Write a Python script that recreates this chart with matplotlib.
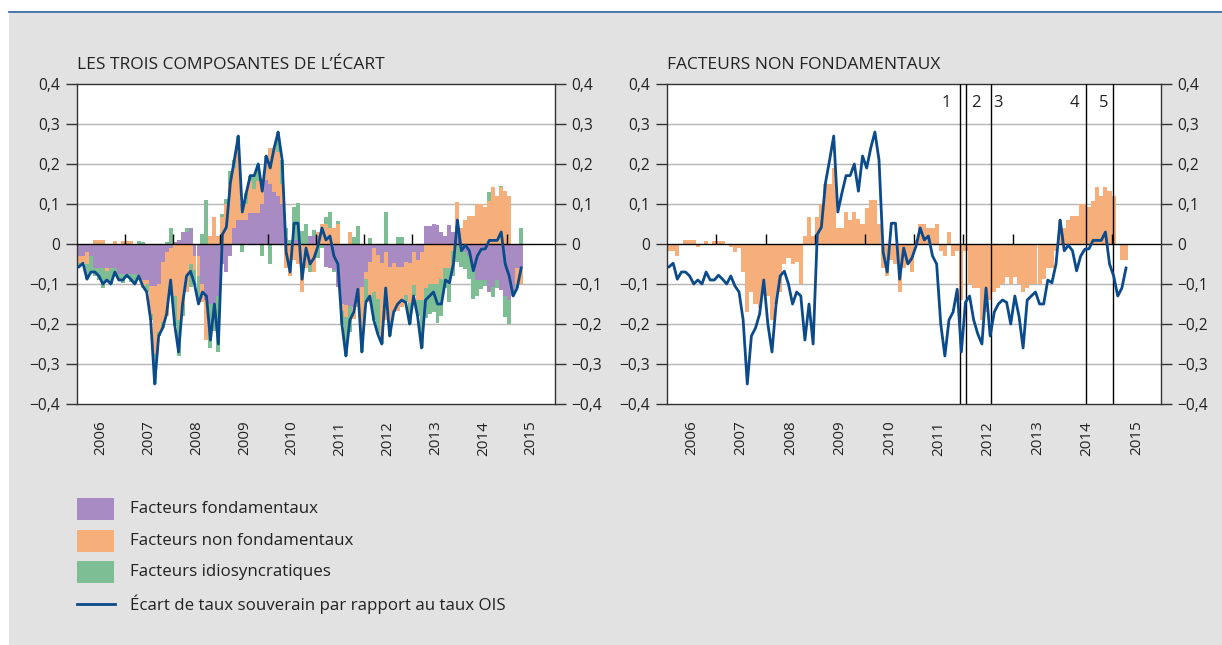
import matplotlib
matplotlib.use("Agg")
import matplotlib.pyplot as plt
from matplotlib.patches import Rectangle
from matplotlib.lines import Line2D
import numpy as np

plt.rcParams['font.family'] = ['Open Sans', 'DejaVu Sans']

# monthly data, Jan 2006 .. Apr 2015
spread = [-0.057, -0.048, -0.088, -0.070, -0.070, -0.080, -0.100, -0.090, -0.100, -0.070,
          -0.090, -0.090, -0.078, -0.088, -0.100, -0.080, -0.105, -0.120, -0.190, -0.350,
          -0.230, -0.210, -0.175, -0.090, -0.200, -0.270, -0.150, -0.080, -0.068, -0.100,
          -0.150, -0.120, -0.130, -0.240, -0.150, -0.250, 0.024, 0.042, 0.153, 0.210,
          0.270, 0.080, 0.128, 0.171, 0.171, 0.200, 0.132, 0.220, 0.190, 0.240,
          0.280, 0.210, -0.020, -0.070, 0.052, 0.052, -0.088, -0.010, -0.050, -0.035,
          -0.005, 0.040, 0.010, 0.020, -0.030, -0.050, -0.200, -0.280, -0.190, -0.170,
          -0.113, -0.270, -0.146, -0.130, -0.190, -0.225, -0.250, -0.110, -0.230, -0.170,
          -0.150, -0.140, -0.146, -0.200, -0.130, -0.180, -0.260, -0.140, -0.130, -0.120,
          -0.150, -0.150, -0.090, -0.097, -0.050, 0.060, -0.017, -0.003, -0.017, -0.067,
          -0.030, -0.013, -0.012, 0.009, 0.009, 0.009, 0.030, -0.050, -0.080, -0.130,
          -0.110, -0.060]

fondamentaux = [-0.030, -0.030, -0.020, -0.030, -0.060, -0.060, -0.060, -0.060, -0.060, -0.060,
                -0.075, -0.075, -0.075, -0.075, -0.075, -0.080, -0.090, -0.090, -0.105, -0.105,
                -0.100, -0.045, -0.020, -0.010, 0.005, 0.010, 0.030, 0.030, 0.040, -0.030,
                -0.030, -0.100, -0.140, -0.150, -0.150, -0.130, -0.050, -0.070, -0.030, 0.040,
                0.060, 0.060, 0.060, 0.077, 0.077, 0.077, 0.100, 0.160, 0.150, 0.130,
                0.120, 0.100, 0.015, 0.000, 0.010, 0.010, 0.000, 0.000, 0.020, 0.020,
                0.020, 0.000, -0.057, -0.060, -0.065, -0.107, -0.150, -0.153, -0.155, -0.157,
                -0.140, -0.107, -0.070, -0.045, -0.010, -0.028, -0.048, -0.020, -0.057, -0.048,
                -0.057, -0.057, -0.045, -0.048, -0.020, -0.040, -0.020, 0.045, 0.045, 0.050,
                0.048, 0.030, 0.020, 0.048, 0.030, 0.045, -0.010, -0.020, -0.030, -0.060,
                -0.090, -0.090, -0.090, -0.120, -0.107, -0.090, -0.115, -0.130, -0.140, -0.115,
                -0.060, -0.060]

non_fondamentaux = [-0.018, -0.018, -0.030, 0.000, 0.009, 0.009, 0.009, -0.008, 0.000, 0.008,
                    0.000, 0.008, 0.008, 0.008, 0.000, -0.008, -0.020, -0.010, -0.070, -0.170,
                    -0.120, -0.150, -0.160, -0.120, -0.130, -0.190, -0.150, -0.120, -0.050, -0.035,
                    -0.050, -0.045, -0.100, 0.020, 0.068, 0.020, 0.068, 0.100, 0.150, 0.150,
                    0.190, 0.040, 0.040, 0.080, 0.060, 0.080, 0.062, 0.050, 0.090, 0.110,
                    0.110, 0.050, -0.060, -0.080, -0.040, -0.050, -0.120, -0.060, -0.050, -0.070,
                    0.010, 0.050, 0.050, 0.040, 0.040, 0.050, -0.018, -0.030, 0.030, -0.030,
                    -0.018, -0.140, -0.018, -0.100, -0.110, -0.110, -0.190, -0.170, -0.140, -0.120,
                    -0.110, -0.100, -0.082, -0.100, -0.082, -0.100, -0.120, -0.110, -0.100, -0.100,
                    -0.100, -0.088, -0.060, -0.060, -0.017, 0.060, 0.040, 0.060, 0.070, 0.070,
                    0.100, 0.100, 0.092, 0.108, 0.142, 0.120, 0.142, 0.132, 0.120, 0.000,
                    -0.040, -0.040]

idiosyncratiques = [-0.009, 0.000, -0.038, -0.040, -0.019, -0.029, -0.049, -0.022, -0.040, -0.018,
                    -0.015, -0.023, -0.011, -0.021, -0.025, 0.008, 0.005, -0.020, -0.015, -0.075,
                    -0.010, -0.015, 0.005, 0.040, -0.075, -0.090, -0.030, 0.010, -0.058, -0.035,
                    -0.070, 0.025, 0.110, -0.110, -0.068, -0.140, 0.006, 0.012, 0.033, 0.020,
                    0.020, -0.020, 0.028, 0.014, 0.034, 0.043, -0.030, 0.010, -0.050, 0.000,
                    0.050, 0.060, 0.025, 0.010, 0.082, 0.092, 0.032, 0.050, -0.020, 0.015,
                    -0.035, -0.010, 0.017, 0.040, -0.005, 0.007, -0.032, -0.097, -0.065, 0.017,
                    0.045, -0.023, -0.058, 0.015, -0.070, -0.087, -0.012, 0.080, -0.033, -0.002,
                    0.017, 0.017, -0.019, -0.052, -0.028, -0.040, -0.120, -0.075, -0.075, -0.070,
                    -0.098, -0.092, -0.050, -0.085, -0.063, -0.045, -0.047, -0.043, -0.057, -0.077,
                    -0.040, -0.023, -0.014, 0.021, -0.026, -0.021, 0.003, -0.052, -0.060, -0.015,
                    -0.010, 0.040]

years = [str(y) for y in range(2006, 2016)]
# ECB events (months after Jan 2006)
events = [71.2, 72.7, 78.6, 101.8, 108.3]
event_labels = ['1', '2', '3', '4', '5']
event_label_x = [67.9, 75.1, 80.4, 98.9, 106.1]

titles = ["LES TROIS COMPOSANTES DE L\u2019\u00c9CART", "FACTEURS NON FONDAMENTAUX"]
legend_labels = ["Facteurs fondamentaux", "Facteurs non fondamentaux",
                 "Facteurs idiosyncratiques",
                 "\u00c9cart de taux souverain par rapport au taux OIS"]

c_fond = '#a88bc2'
c_nonf = '#f6ae7a'
c_idio = '#7dbe95'
c_line = '#0b4a8b'
bg = '#e2e2e2'
txt = '#222222'

W, H = 1222, 645
fig = plt.figure(figsize=(W / 100, H / 100), dpi=100)
fig.patches.append(Rectangle((9 / W, 0), 1, 1 - 13 / H, transform=fig.transFigure,
                             facecolor=bg, edgecolor='none', zorder=-10))
fig.lines.append(Line2D([9 / W, 1], [1 - 12 / H] * 2, transform=fig.transFigure,
                        color='#2a5fa0', lw=1.2))

months = np.arange(len(spread)) + 0.5


def fmt(v):
    s = f"{abs(v):.1f}".replace('.', ',')
    if round(v, 2) == 0:
        return '0'
    return ('\u2212' if v < 0 else '') + s


def setup(ax, title):
    ax.set_facecolor('white')
    ax.set_xlim(0, 120)
    ax.set_ylim(-0.4, 0.4)
    yt = np.round(np.arange(-0.4, 0.41, 0.1), 1)
    ax.set_yticks(yt)
    ax.set_yticklabels([fmt(v) for v in yt])
    for v in yt[1:-1]:
        if v != 0:
            ax.axhline(v, color='#b5b5b5', lw=1, zorder=0)
    ax.axhline(0, color='black', lw=1, zorder=6)
    ax.vlines(np.arange(12, 120, 12), 0, 0.025, color='black', lw=1, zorder=6)
    ax.set_xticks(np.arange(6, 120, 12))
    ax.set_xticklabels(years, rotation=90, fontsize=11, color=txt)
    ax.tick_params(axis='x', length=0, pad=12)
    ax.tick_params(axis='y', left=True, right=True, labelleft=True, labelright=True,
                   length=8, width=1, pad=4, labelsize=11.2, labelcolor=txt,
                   color='#333333')
    for s in ax.spines.values():
        s.set_color('#333333')
        s.set_linewidth(1)
    ax.text(0, 1.047, title, transform=ax.transAxes, ha='left', va='baseline',
            fontsize=12.5, color=txt)


ax1 = fig.add_axes([77 / W, 1 - 404 / H, 478 / W, 320 / H])
ax2 = fig.add_axes([667 / W, 1 - 404 / H, 494 / W, 320 / H])
setup(ax1, titles[0])
setup(ax2, titles[1])

# stacked bars: positives stack up, negatives stack down
pos = np.zeros(len(spread))
neg = np.zeros(len(spread))
for vals, col in [(fondamentaux, c_fond), (non_fondamentaux, c_nonf), (idiosyncratiques, c_idio)]:
    v = np.array(vals)
    bottom = np.where(v >= 0, pos, neg)
    ax1.bar(months, v, width=1.0, bottom=bottom, color=col, edgecolor='none', lw=0,
            antialiased=False, zorder=2)
    pos = pos + np.where(v >= 0, v, 0)
    neg = neg + np.where(v < 0, v, 0)
ax1.plot(months, spread, color=c_line, lw=2, zorder=7)

ax2.bar(months, non_fondamentaux, width=1.0, color=c_nonf, edgecolor='none', lw=0,
        antialiased=False, zorder=2)
ax2.plot(months, spread, color=c_line, lw=2, zorder=7)
for m in events:
    ax2.axvline(m, color='black', lw=1, zorder=6)
for lx, lab in zip(event_label_x, event_labels):
    ax2.text(lx, 0.352, lab, ha='center', va='center', fontsize=12, color=txt)

# legend
rows = [509, 541, 572, 604]
for y, col, lab in zip(rows[:3], [c_fond, c_nonf, c_idio], legend_labels[:3]):
    fig.patches.append(Rectangle((77 / W, 1 - (y + 11) / H), 37 / W, 22 / H,
                                 transform=fig.transFigure, facecolor=col, edgecolor='none'))
    fig.text(130 / W, 1 - y / H, lab, ha='left', va='center', fontsize=12.2, color=txt)
fig.lines.append(Line2D([77 / W, 115 / W], [1 - rows[3] / H] * 2, transform=fig.transFigure,
                        color=c_line, lw=2))
fig.text(130 / W, 1 - rows[3] / H, legend_labels[3], ha='left', va='center', fontsize=12.2,
         color=txt)

fig.savefig("out.png", dpi=100)
